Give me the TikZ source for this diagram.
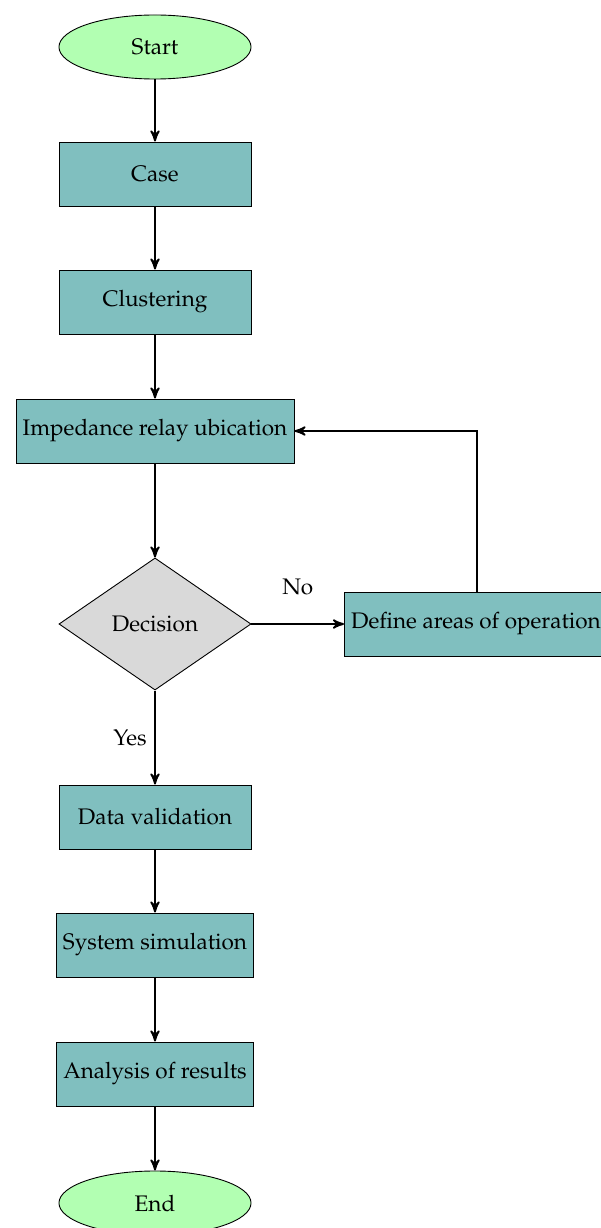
\documentclass[tikz,border=0pt]{standalone}
\usepackage[T1]{fontenc}
\usepackage{mathpazo}
\usetikzlibrary{shapes.geometric,arrows}
\tikzset{
  startstop/.style={ellipse, draw=black, fill=green!30, minimum width=3cm, minimum height=1cm, inner sep=1pt},
  process/.style={rectangle, draw=black, fill=teal!50, minimum width=3cm, minimum height=1cm, inner sep=3pt},
  decision/.style={diamond, draw=black, fill=gray!30, minimum width=3cm, minimum height=58.7pt, inner sep=1pt},
  arrow/.style={thick, ->, >=stealth'}
}
\begin{document}
\begin{tikzpicture}[x=0.4444pt,y=-0.4444pt]
\useasboundingbox (0,0) rectangle (601,1228);
\node[startstop] (start) at (155,47) {Start};
\node[process] (case) at (155,174) {Case};
\node[process] (clus) at (155,302) {Clustering};
\node[process] (imp) at (155,431) {Impedance relay ubication};
\node[decision] (dec) at (155,624) {Decision};
\node[process, anchor=west] (def) at (344,624) {Define areas of operation};
\node[process] (data) at (155,817) {Data validation};
\node[process] (sim) at (155,945) {System simulation};
\node[process] (ana) at (155,1074) {Analysis of results};
\node[startstop] (end) at (155,1203) {End};
\coordinate (corner) at (477,431);
\draw[arrow] (start) -- (case);
\draw[arrow] (case) -- (clus);
\draw[arrow] (clus) -- (imp);
\draw[arrow] (imp) -- (dec);
\draw[arrow] (dec) -- node[midway, above=9pt] {No} (def);
\draw[arrow] (dec) -- node[midway, left=0pt] {Yes} (data);
\draw[arrow] (def.north -| corner) -- (corner) -- (imp.east);
\draw[arrow] (data) -- (sim);
\draw[arrow] (sim) -- (ana);
\draw[arrow] (ana) -- (end);
\end{tikzpicture}
\end{document}
